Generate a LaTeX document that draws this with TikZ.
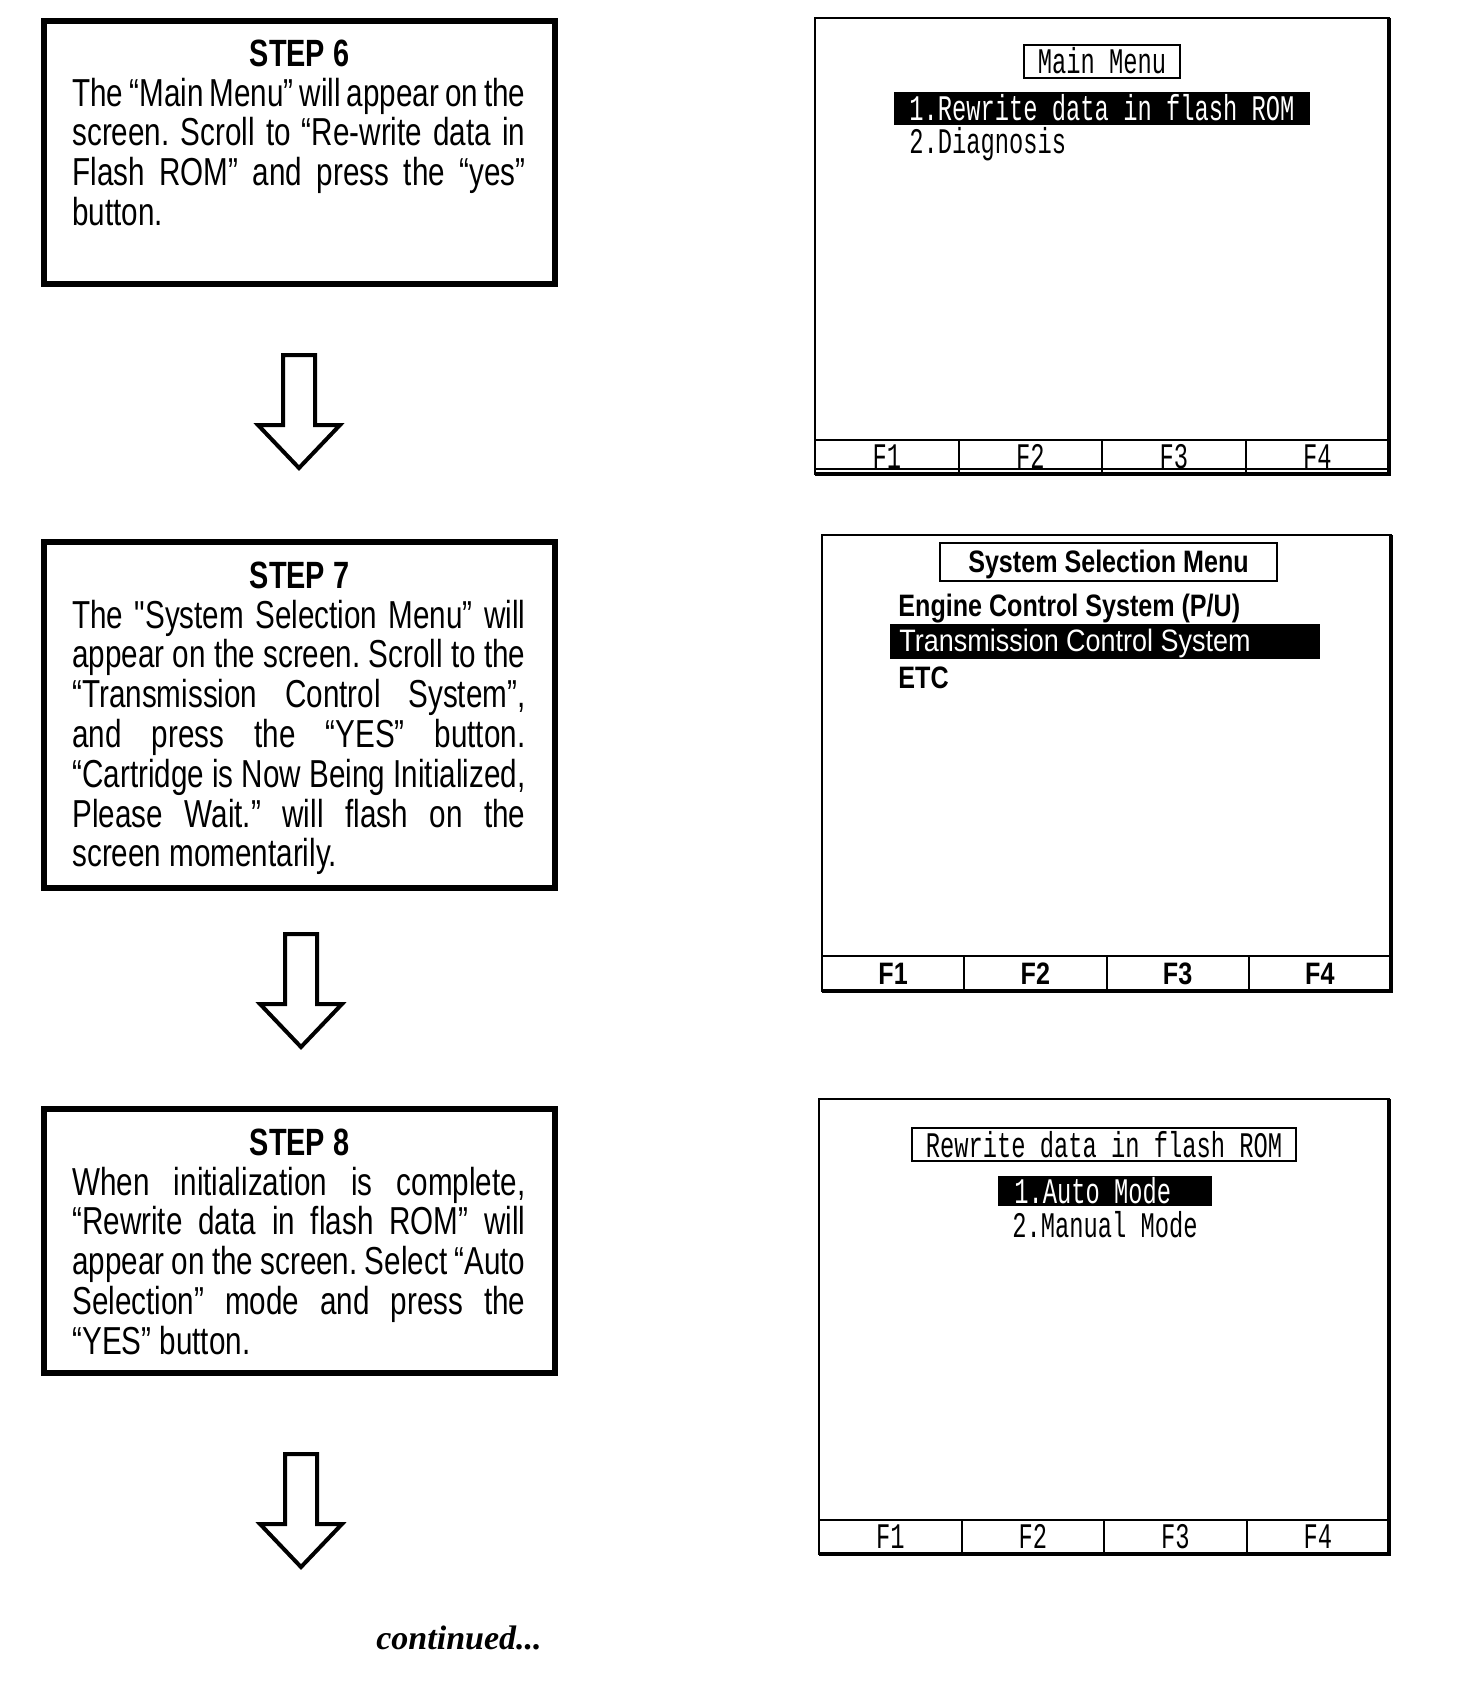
\documentclass[tikz,border=0pt]{standalone}
\usepackage{fontspec}
\usepackage{tikz}
\usetikzlibrary{arrows.meta, positioning, calc}

\newfontfamily\stepfont[FakeStretch=0.76]{Liberation Sans}
\newfontfamily\scrmono[FakeStretch=0.66]{Liberation Mono}
\newfontfamily\scrsans[FakeStretch=0.81]{Liberation Sans}
\newfontfamily\scrlight[FakeStretch=0.87]{Liberation Sans}
\newfontfamily\contfont{Liberation Serif}

\newlength{\stepw}\setlength{\stepw}{226.5pt}
% justified line / plain last line (font spaces, not the fixed ones of align=left)
\newcommand{\jl}[1]{{\spaceskip=0pt\xspaceskip=0pt\makebox[\stepw][s]{#1}}}
\newcommand{\el}[1]{{\spaceskip=0pt\xspaceskip=0pt #1}}
\newcommand{\fkmono}{\scrmono\fontsize{18}{18}\selectfont}
\newcommand{\fkbold}{\scrsans\bfseries\fontsize{15.5}{15.5}\selectfont}

\tikzset{
  stepbox/.style={draw, line width=2.8pt, minimum width=255.5pt, inner sep=0pt},
  steptitle/.style={font=\stepfont\bfseries\fontsize{19}{20}\selectfont, inner sep=0pt, anchor=base},
  steptext/.style={font=\stepfont\fontsize{19.5}{19.9}\selectfont\frenchspacing, text width=\stepw, align=left, inner sep=0pt, anchor=base west},
  monotext/.style={font=\fkmono, inner sep=0pt, anchor=base west},
  boldtext/.style={font=\fkbold, inner sep=0pt, anchor=base west},
  scrline/.style={line width=1pt},
  scrthick/.style={line width=2.2pt},
  blockarrow/.style={line width=2pt, line join=miter, fill=white}
}

\begin{document}
\begin{tikzpicture}[x=0.5pt, y=-0.5pt, >=Stealth]
  \fill[white] (0,0) rectangle (1456,1686);

  % Step boxes
  \node[stepbox, minimum height=131.5pt] (s6) at (299.5,152.5) {};
  \node[stepbox, minimum height=173pt] (s7) at (299.5,715) {};
  \node[stepbox, minimum height=132pt] (s8) at (299.5,1241) {};

  % Step 6
  \node[steptitle] (h6) at (299.5,67) {STEP 6};
  \node[steptext] (b6) at (72,106) {\jl{The “Main Menu” will appear on the}\\
    \jl{screen. Scroll to “Re-write data in}\\
    \jl{Flash ROM” and press the “yes”}\\
    \el{button.}};

  % Step 7
  \node[steptitle] (h7) at (299.5,588) {STEP 7};
  \node[steptext] (b7) at (72,628) {\jl{The "System Selection Menu” will}\\
    \jl{appear on the screen. Scroll to the}\\
    \jl{“Transmission Control System”,}\\
    \jl{and press the “YES” button.}\\
    \jl{“Cartridge is Now Being Initialized,}\\
    \jl{Please Wait.” will flash on the}\\
    \el{screen momentarily.}};

  % Step 8
  \node[steptitle] (h8) at (299.5,1155) {STEP 8};
  \node[steptext] (b8) at (72,1195) {\jl{When initialization is complete,}\\
    \jl{“Rewrite data in flash ROM” will}\\
    \jl{appear on the screen. Select “Auto}\\
    \jl{Selection” mode and press the}\\
    \el{“YES” button.}};

  % Down arrows
  \foreach \ax/\ay in {299/355, 301/934, 301/1454} {
    \draw[blockarrow] (\ax-16,\ay) -- (\ax+16,\ay) -- (\ax+16,\ay+70) -- (\ax+41,\ay+70)
      -- (\ax,\ay+113) -- (\ax-41,\ay+70) -- (\ax-16,\ay+70) -- cycle;
  }

  % Screen frames and function keys
  \foreach \n/\l/\t/\r/\b/\fb/\ff in {1/815/18/1389/474/440/\fkmono, 2/822/535/1391/991/956/\fkbold, 3/819/1099/1389/1554/1520/\fkmono} {
    \draw[scrline] (\l,\t) rectangle (\r,\b);
    \draw[scrthick] (\l,\b) -- (\r,\b) -- (\r,\t);
    \draw[scrline] (\l,\fb) -- (\r,\fb);
    \foreach \k in {1,2,3} {
      \pgfmathsetmacro{\dx}{\l+\k*(\r-\l)/4}
      \draw[scrline] (\dx,\fb) -- (\dx,\b);
    }
    \foreach \k in {1,2,3,4} {
      \pgfmathsetmacro{\kx}{\l+(\k-0.5)*(\r-\l)/4}
      \node[font=\ff, inner sep=0pt, anchor=base] (f\n\k) at (\kx,\fb+28) {F\k};
    }
  }
  \draw[scrline] (815,469) -- (1389,469);

  % Screen 1: Main Menu
  \draw[scrline] (1024,45) rectangle (1180,78);
  \node[font=\fkmono, inner sep=0pt, anchor=base] (t1) at (1102,74) {Main Menu};
  \fill (894,92) rectangle (1310,125);
  \node[monotext, text=white] (m11) at (909,120) {1.Rewrite data in flash ROM};
  \node[monotext] (m12) at (909,154) {2.Diagnosis};

  % Screen 2: System Selection Menu
  \draw[line width=1.4pt] (940,543) rectangle (1277,581);
  \node[font=\fkbold, inner sep=0pt, anchor=base] (t2) at (1108.5,572) {System Selection Menu};
  \node[boldtext] (m21) at (898,616) {Engine Control System (P/U)};
  \fill (890,624) rectangle (1320,659);
  \node[font=\scrlight\fontsize{15.5}{15.5}\selectfont, inner sep=0pt, anchor=base west, text=white] (m22) at (899,651) {Transmission Control System};
  \node[boldtext] (m23) at (898,688) {ETC};

  % Screen 3: Rewrite data in flash ROM
  \draw[scrline] (912,1128) rectangle (1296,1161);
  \node[font=\fkmono, inner sep=0pt, anchor=base] (t3) at (1104,1157) {Rewrite data in flash ROM};
  \fill (998,1176) rectangle (1212,1206);
  \node[monotext, text=white] (m31) at (1014,1203) {1.Auto Mode};
  \node[monotext] (m32) at (1012,1237) {2.Manual Mode};

  % Footer
  \node[font=\contfont\bfseries\itshape\fontsize{17}{17}\selectfont, inner sep=0pt, anchor=base] (cont) at (459,1649) {continued...};
\end{tikzpicture}
\end{document}
